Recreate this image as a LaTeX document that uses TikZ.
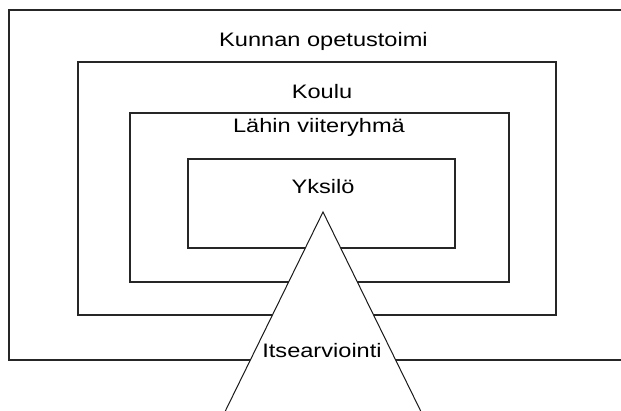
\documentclass[tikz,border=0pt]{standalone}
\usepackage{fontspec}
\setmainfont{Liberation Sans}
% labels are set in a slightly widened sans
\newcommand{\widetext}[1]{\scalebox{1.21}[1]{#1}}
\begin{document}
\begin{tikzpicture}[x=1pt,y=-1pt,
  frame/.style={draw=black!85, line width=1.3pt},
  wedge/.style={draw=black!90, line width=1pt, fill=white, line join=miter},
  lbl/.style={anchor=base, inner sep=0pt, font=\fontsize{19.5}{23}\selectfont}]
\useasboundingbox (0,0) rectangle (621,411);
\clip (0,0) rectangle (621,411);
% nested levels; the outermost one runs on past the right edge
\draw[frame] (630,10) -- (9,10) -- (9,360) -- (630,360);
\draw[frame] (78,62) rectangle (556,315);
\draw[frame] (130,113) rectangle (509,282);
\draw[frame] (188,159) rectangle (455,248);
% self-assessment wedge cutting through all levels
\coordinate (apex) at (323,212);
\coordinate (bl) at (216,430);
\coordinate (br) at (430,430);
\fill[white] (bl) -- (apex) -- (br) -- cycle;
\draw[wedge] (bl) -- (apex) -- (br);
% labels
\node[lbl] (kunta) at (323.5,47) {\widetext{Kunnan opetustoimi}};
\node[lbl] (koulu) at (322,99) {\widetext{Koulu}};
\node[lbl] (ryhma) at (319,133) {\widetext{Lähin viiteryhmä}};
\node[lbl] (yksilo) at (323,194) {\widetext{Yksilö}};
\node[lbl] (itse) at (322,358) {\widetext{Itsearviointi}};
\end{tikzpicture}
\end{document}
